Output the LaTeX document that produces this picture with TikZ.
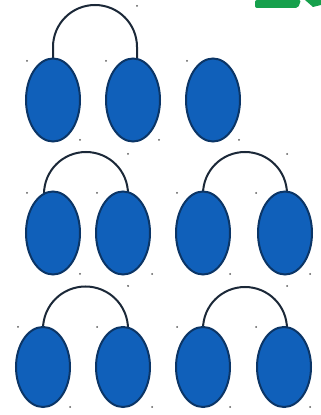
\documentclass[tikz,border=0pt]{standalone}
\usetikzlibrary{shapes.geometric}
\definecolor{ballfill}{HTML}{1060BA}
\definecolor{balledge}{HTML}{0B3566}
\definecolor{arcline}{HTML}{1B2838}
\definecolor{dotcol}{HTML}{5A5A5A}
\definecolor{greenbar}{HTML}{16A04C}
\tikzset{
  ball/.style={ellipse, draw=balledge, fill=ballfill, line width=2pt, inner sep=0pt, minimum width=54pt, minimum height=#1},
  ball/.default=83pt,
  handle/.style={draw=arcline, line width=2pt},
  speck/.style={fill=dotcol}
}
\begin{document}
\begin{tikzpicture}[x=1pt,y=1pt]
\useasboundingbox (0,0) rectangle (321,415);
\fill[white] (0,0) rectangle (321,415);
% green fragment top right
\fill[greenbar, rounded corners=2pt] (255,407) -- (298,407) -- (301,415) -- (255,415) -- cycle;
\fill[greenbar] (305,415) -- (321,415) -- (321,410) -- (313,408) -- cycle;
% handles (drawn before the balls)
\coordinate (h1a) at (53,352);
\coordinate (h1b) at (137,352);
\coordinate (h2a) at (44,214);
\coordinate (h2b) at (128,214);
\coordinate (h3a) at (203,214);
\coordinate (h3b) at (287,214);
\coordinate (h4a) at (43,80);
\coordinate (h4b) at (128,80);
\coordinate (h5a) at (203,80);
\coordinate (h5b) at (287,80);
\draw[handle] (h1a) -- (53,368) arc[start angle=180,end angle=0,radius=42] -- (h1b);
\draw[handle] (h2a) -- (44,221) arc[start angle=180,end angle=0,radius=42] -- (h2b);
\draw[handle] (h3a) -- (203,221) arc[start angle=180,end angle=0,radius=42] -- (h3b);
\draw[handle] (h4a) -- (43,86) arc[start angle=180,end angle=0,radius=42.5] -- (h4b);
\draw[handle] (h5a) -- (203,86) arc[start angle=180,end angle=0,radius=42] -- (h5b);
% balls
\node[ball] (r1a) at (53,315) {};
\node[ball] (r1b) at (133,315) {};
\node[ball] (r1c) at (213,315) {};
\node[ball] (r2a) at (53,182) {};
\node[ball] (r2b) at (123,182) {};
\node[ball] (r2c) at (203,182) {};
\node[ball] (r2d) at (285,182) {};
\node[ball=80pt] (r3a) at (43,48) {};
\node[ball=80pt] (r3b) at (123,48) {};
\node[ball=80pt] (r3c) at (203,48) {};
\node[ball=80pt] (r3d) at (284,48) {};
% small handle specks
\foreach \x/\y in {27/61,106/61,187/61,137/6,80/140,159/140,239/140,
  128/154,287/154,27/193,97/193,177/193,256/193,
  80/274,152/274,230/274,310/274,128/286,287/286,
  18/327,97/327,177/327,256/327,70/407,152/407,230/407,310/407}
  \fill[speck] (\x,415-\y) circle[radius=1];
\end{tikzpicture}
\end{document}
